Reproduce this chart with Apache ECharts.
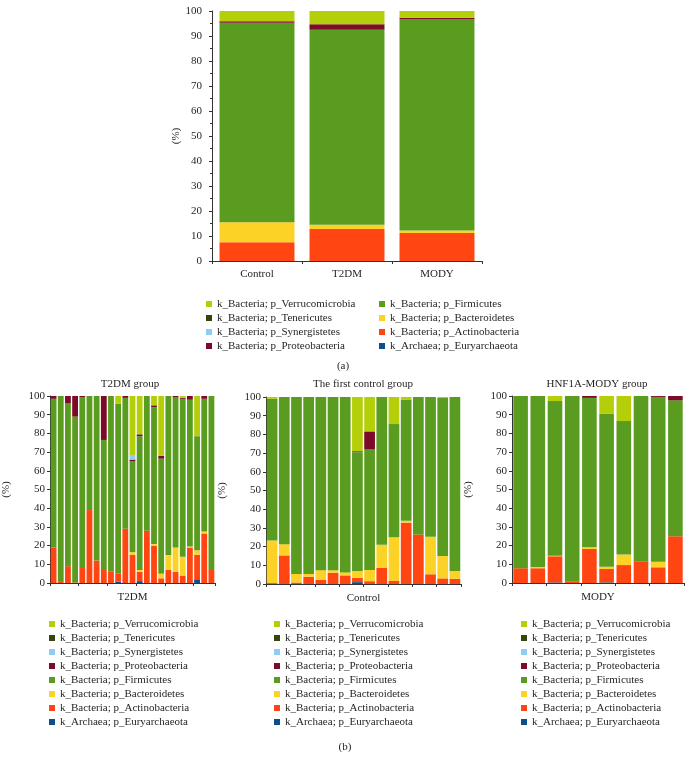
<!DOCTYPE html>
<html>
<head>
<meta charset="utf-8">
<script src="https://cdn.jsdelivr.net/npm/echarts@6/dist/echarts.min.js"></script>
<style>
html,body{margin:0;padding:0;background:#fff;}
#chart{width:689px;height:765px;}
</style>
</head>
<body>
<div id="chart"></div>
<script>
// ---- phylum names (stack order bottom -> top) ----
const phyla = [
  'k_Archaea; p_Euryarchaeota',
  'k_Bacteria; p_Actinobacteria',
  'k_Bacteria; p_Bacteroidetes',
  'k_Bacteria; p_Firmicutes',
  'k_Bacteria; p_Proteobacteria',
  'k_Bacteria; p_Synergistetes',
  'k_Bacteria; p_Tenericutes',
  'k_Bacteria; p_Verrucomicrobia'
];
const yTicks = [0,10,20,30,40,50,60,70,80,90,100];

// ---- (a) group means ----
const topCategories = ['Control','T2DM','MODY'];
const topEury    = [0, 0, 0];
const topActino  = [7.5, 12.8, 11.2];
const topBacter  = [8.0, 1.7, 1.0];
const topFirm    = [79.8, 78.0, 84.6];
const topProteo  = [0.6, 2.2, 0.5];
const topSynerg  = [0, 0, 0];
const topTeneric = [0, 0, 0];
const topVerruco = [4.1, 5.3, 2.7];

// ---- (b) T2DM group, 23 samples ----
const t2dmSamples = ['T1','T2','T3','T4','T5','T6','T7','T8','T9','T10','T11','T12','T13','T14','T15','T16','T17','T18','T19','T20','T21','T22','T23'];
const t2dmEury    = [0,0,0,0,0,0,0,0,0,0.8,0,0,1,0,0,0,0,0,0,0,2,0,0];
const t2dmActino  = [19,1,9,0.3,8,39,12,7,6,4.2,29,15,5,28,20,2.5,7,6,4,19,13,26.5,7];
const t2dmBacter  = [0,0,0,0,0,0,0,0,0,0,0,1.5,1,0,0.8,2.5,8,13,10,0.5,2.5,1,0];
const t2dmFirm    = [79.5,99,87,88.7,91.3,61,88,69.5,94,90.8,70,48.5,71.5,72,73.2,61.5,85,80.3,84.5,78.5,61,71,93];
const t2dmProteo  = [1.5,0,4,11,0.7,0,0,23.5,0,0,1,1,1,0,1,1.5,0,0.7,0.5,2,0,1.5,0];
const t2dmSynerg  = [0,0,0,0,0,0,0,0,0,0,0,2.5,0,0,0,0,0,0,0,0,0,0,0];
const t2dmTeneric = [0,0,0,0,0,0,0,0,0,0,0,0,0,0,0,0,0,0,0,0,0,0,0];
const t2dmVerruco = [0,0,0,0,0,0,0,0,0,4.2,0,31.5,20.5,0,5,32,0,0,1,0,21.5,0,0];

// ---- (b) first control group, 16 samples ----
const ctrlSamples = ['C1','C2','C3','C4','C5','C6','C7','C8','C9','C10','C11','C12','C13','C14','C15','C16'];
const ctrlEury    = [0,0,0,0,0,0,0,1,0,0,0,0,0,0,0,0];
const ctrlActino  = [0.5,15.3,0.8,3.9,2.3,6.0,4.6,2.3,1.5,8.6,1.6,32.8,26.5,5.2,3,2.8];
const ctrlBacter  = [22.7,6,4.6,1.5,5.1,1.4,1.6,3.7,6,12.4,23.4,1,0,20.1,12,4.2];
const ctrlFirm    = [75.8,78.7,94.6,94.6,92.6,92.6,93.8,63.5,64.5,79,60.5,64.9,73.5,74.7,84.7,93];
const ctrlProteo  = [0,0,0,0,0,0,0,0.5,9.6,0,0,0,0,0,0,0];
const ctrlSynerg  = [0,0,0,0,0,0,0,0,0,0,0,0,0,0,0,0];
const ctrlTeneric = [0,0,0,0,0,0,0,0,0,0,0,0,0,0,0,0];
const ctrlVerruco = [1,0,0,0,0,0,0,29,18.4,0,14.5,1.3,0,0,0.3,0];

// ---- (b) HNF1A-MODY group, 10 samples ----
const modySamples = ['M1','M2','M3','M4','M5','M6','M7','M8','M9','M10'];
const modyEury    = [0,0,0.3,0,0,0.3,0,0,0,0];
const modyActino  = [7.9,7.9,14,0.7,18.2,7.2,9.6,11.4,8.4,25];
const modyBacter  = [0,0.7,0.3,0,0.9,1.25,5.6,0,3,0];
const modyFirm    = [92.1,91.4,82.7,99.3,79.9,81.95,71.4,88.6,88.1,72.7];
const modyProteo  = [0,0,0,0,1,0,0,0,0.5,2.3];
const modySynerg  = [0,0,0,0,0,0,0,0,0,0];
const modyTeneric = [0,0,0,0,0,0,0,0,0,0];
const modyVerruco = [0,0,2.7,0,0,9.3,13.4,0,0,0];

// ---- styling ----
const colors = ['#0b4f8f','#ff4612','#fdd227','#5a9c1f','#7c0a28','#8ecdf6','#36440f','#b4cf0a'];
const FONT = 'Liberation Serif';
const TXT = '#231f20';

const panels = [
  {cats: topCategories, data: [topEury,topActino,topBacter,topFirm,topProteo,topSynerg,topTeneric,topVerruco],
   grid: {left:212, top:11, width:270, height:250}, gap:'16.7%', xName:null, labels:true, minor:true, nameGap:29, lblMargin:10},
  {cats: t2dmSamples, data: [t2dmEury,t2dmActino,t2dmBacter,t2dmFirm,t2dmProteo,t2dmSynerg,t2dmTeneric,t2dmVerruco],
   grid: {left:45, top:396, width:170, height:187}, gap:'19%', xName:'T2DM', labels:false, minor:false, nameGap:38, lblMargin:5},
  {cats: ctrlSamples, data: [ctrlEury,ctrlActino,ctrlBacter,ctrlFirm,ctrlProteo,ctrlSynerg,ctrlTeneric,ctrlVerruco],
   grid: {left:266, top:397, width:195, height:187}, gap:'12%', xName:'Control', labels:false, minor:false, nameGap:38, lblMargin:5},
  {cats: modySamples, data: [modyEury,modyActino,modyBacter,modyFirm,modyProteo,modySynerg,modyTeneric,modyVerruco],
   grid: {left:512, top:396, width:172, height:187}, gap:'15%', xName:'MODY', labels:false, minor:false, nameGap:38, lblMargin:5}
];

const grids = [], xAxes = [], yAxes = [], series = [];
panels.forEach((p, i) => {
  grids.push(Object.assign({containLabel:false}, p.grid));
  xAxes.push({
    type:'category', gridIndex:i, data:p.cats,
    axisLine:{lineStyle:{color:'#333', width:1}},
    axisTick:{show:true, length:3, lineStyle:{color:'#333'}},
    axisLabel:{show:p.labels, color:TXT, fontFamily:FONT, fontSize:11, margin:8},
    name:p.xName, nameLocation:'middle', nameGap:9,
    nameTextStyle:{color:TXT, fontFamily:FONT, fontSize:11, verticalAlign:'top'}
  });
  yAxes.push({
    type:'value', gridIndex:i, min:0, max:100, interval:10,
    axisLine:{show:true, lineStyle:{color:'#333', width:1}},
    axisTick:{show:true, length:3, lineStyle:{color:'#333'}},
    minorTick:{show:p.minor, splitNumber:2, length:2, lineStyle:{color:'#333'}},
    splitLine:{show:false},
    axisLabel:{color:TXT, fontFamily:FONT, fontSize:11, margin:p.lblMargin,
               formatter:(v)=> yTicks.indexOf(v) >= 0 ? String(v) : ''},
    name:'(%)', nameLocation:'middle', nameGap:p.nameGap, nameRotate:90,
    nameTextStyle:{color:TXT, fontFamily:FONT, fontSize:11}
  });
  p.data.forEach((arr, k) => {
    series.push({
      type:'bar', name:phyla[k], xAxisIndex:i, yAxisIndex:i, stack:'s'+i,
      data:arr, barCategoryGap:p.gap, itemStyle:{color:colors[k]},
      emphasis:{disabled:true}, animation:false
    });
  });
});

function legend(left, top, names){
  return {
    left:left, top:top, orient:'vertical', data:names, icon:'rect',
    itemWidth:6, itemHeight:6, itemGap:2, selectedMode:false,
    textStyle:{color:TXT, fontFamily:FONT, fontSize:11, lineHeight:12}
  };
}
const colLeft  = [phyla[7], phyla[6], phyla[5], phyla[4]];
const colRight = [phyla[3], phyla[2], phyla[1], phyla[0]];
const colAll   = [phyla[7], phyla[6], phyla[5], phyla[4], phyla[3], phyla[2], phyla[1], phyla[0]];

const titleStyle = {color:TXT, fontFamily:FONT, fontSize:11, fontWeight:'normal'};
const option = {
  backgroundColor:'#fff',
  animation:false,
  color:colors,
  grid:grids, xAxis:xAxes, yAxis:yAxes, series:series,
  legend:[
    legend(201, 293, colLeft),
    legend(374, 293, colRight),
    legend(44, 613, colAll),
    legend(269, 613, colAll),
    legend(516, 613, colAll)
  ],
  title:[
    {text:'T2DM group', left:130, top:379, textAlign:'center', textStyle:titleStyle, padding:0},
    {text:'The first control group', left:363, top:379, textAlign:'center', textStyle:titleStyle, padding:0},
    {text:'HNF1A-MODY group', left:597, top:379, textAlign:'center', textStyle:titleStyle, padding:0},
    {text:'(a)', left:343, top:361, textAlign:'center', textStyle:titleStyle, padding:0},
    {text:'(b)', left:345, top:742, textAlign:'center', textStyle:titleStyle, padding:0}
  ]
};
const chart = echarts.init(document.getElementById('chart'), null, {renderer:'canvas'});
chart.setOption(option);
</script>
</body>
</html>
